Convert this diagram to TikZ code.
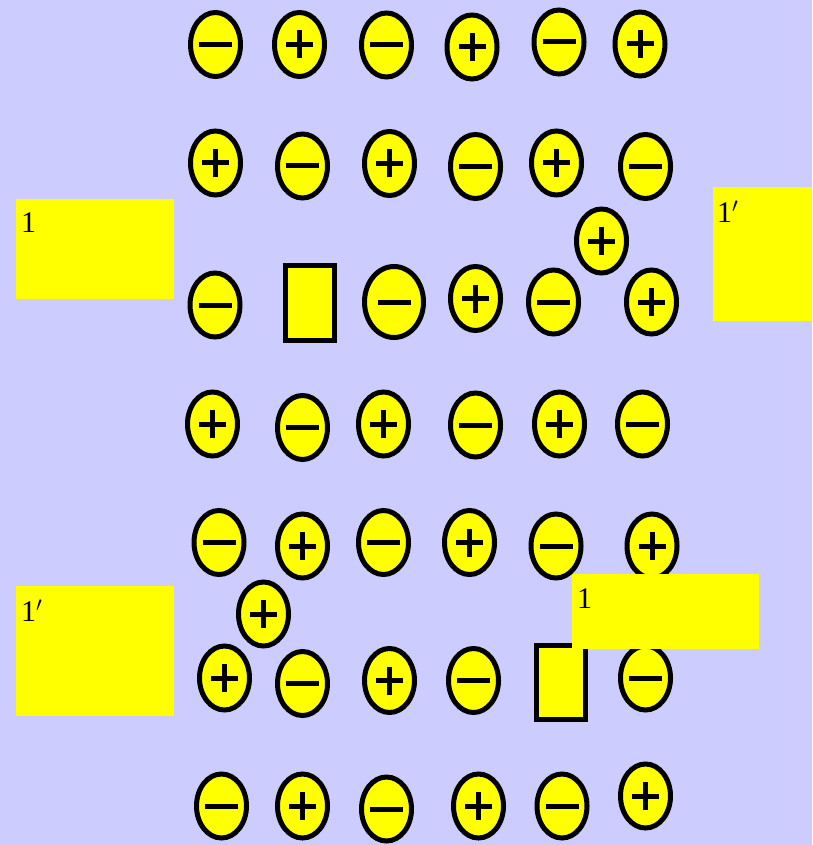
\documentclass[tikz,border=0pt]{standalone}
\usepackage{fontspec}
\setmainfont{Liberation Serif}
\usepackage{tikz}
\usetikzlibrary{shapes.geometric}
\definecolor{backdrop}{RGB}{204, 204, 255}
\definecolor{ionfill}{RGB}{255, 255, 0}

\tikzset{
  ion/.style={ellipse, draw=black, fill=ionfill, line width=5pt,
    minimum width=50pt, minimum height=64pt, inner sep=0pt},
  cation/.style={ion, path picture={
    \draw[line width=5pt] ([xshift=-13.5pt]path picture bounding box.center) -- ++(27pt,0pt);
    \draw[line width=5pt] ([yshift=-14pt]path picture bounding box.center) -- ++(0pt,28pt);}},
  anion/.style={ion, path picture={
    \draw[line width=5pt] ([xshift=-16.5pt]path picture bounding box.center) -- ++(33pt,0pt);}},
  hole/.style={rectangle, draw=black, fill=ionfill, line width=5pt,
    minimum width=49pt, minimum height=75pt, inner sep=0pt},
  pad/.style={rectangle, fill=ionfill, inner sep=0pt, anchor=north west},
  tag/.style={inner sep=0pt, anchor=base west, font=\fontsize{30}{36}\selectfont}
}

\begin{document}
\begin{tikzpicture}[x=1pt,y=-1pt]
\fill[backdrop] (0,0) rectangle (812,845);
% row 1
\node[anion] (r1a) at (215.5,44.5) {};
\node[cation] (r1b) at (299.5,44.5) {};
\node[anion] (r1c) at (386.5,45) {};
\node[cation] (r1d) at (472,47) {};
\node[anion] (r1e) at (559,42) {};
\node[cation] (r1f) at (640,44) {};
% row 2
\node[cation] (r2a) at (215.5,163) {};
\node[anion] (r2b) at (302.5,166) {};
\node[cation] (r2c) at (389.5,163.5) {};
\node[anion] (r2d) at (475.5,166.5) {};
\node[cation] (r2e) at (556.5,163) {};
\node[anion] (r2f) at (645.5,166.5) {};
\node[cation] (drift1) at (601.5,241) {};
% row 3
\node[anion] (r3a) at (215,305) {};
\node[hole] (gap1) at (310,303) {};
\node[anion, minimum width=59pt, minimum height=71pt] (r3c) at (394,302) {};
\node[cation] (r3d) at (475.5,298.5) {};
\node[anion] (r3e) at (553.5,302) {};
\node[cation] (r3f) at (651.5,302) {};
% row 4
\node[cation] (r4a) at (212.5,424) {};
\node[anion] (r4b) at (302.5,427.5) {};
\node[cation] (r4c) at (383.5,424) {};
\node[anion] (r4d) at (475.5,425) {};
\node[cation] (r4e) at (559.5,424) {};
\node[anion] (r4f) at (642.5,424) {};
% row 5
\node[anion] (r5a) at (219,542.5) {};
\node[cation] (r5b) at (302.5,546) {};
\node[anion] (r5c) at (383.5,542.5) {};
\node[cation] (r5d) at (469.5,542.5) {};
\node[anion] (r5e) at (556,546) {};
\node[cation] (r5f) at (652,546) {};
\node[cation] (drift2) at (263.5,614) {};
% row 6
\node[cation] (r6a) at (224.5,678) {};
\node[anion] (r6b) at (302.5,683.5) {};
\node[cation] (r6c) at (389.5,680.5) {};
\node[anion] (r6d) at (473.5,680.5) {};
\node[hole, minimum height=74pt] (gap2) at (560.5,682.5) {};
\node[anion] (r6f) at (645.5,678) {};
% row 7
\node[anion] (r7a) at (221.5,806) {};
\node[cation] (r7b) at (302.5,806) {};
\node[anion] (r7c) at (386.5,809) {};
\node[cation] (r7d) at (478.5,806) {};
\node[anion] (r7e) at (562,806) {};
\node[cation] (r7f) at (645.5,796) {};
% electrodes
\node[pad, minimum width=158pt, minimum height=100pt] (padA) at (16,199) {};
\node[tag] (labA) at ([xshift=5pt,yshift=-33pt]padA.north west) {1};
\node[pad, minimum width=99pt, minimum height=134pt] (padB) at (713,187) {};
\node[tag] (labB) at ([xshift=4pt,yshift=-35pt]padB.north west) {1$'$};
\node[pad, minimum width=158pt, minimum height=130pt] (padC) at (16,586) {};
\node[tag] (labC) at ([xshift=5pt,yshift=-35pt]padC.north west) {1$'$};
\node[pad, minimum width=187pt, minimum height=75pt] (padD) at (572,574) {};
\node[tag] (labD) at ([xshift=5pt,yshift=-34pt]padD.north west) {1};
\end{tikzpicture}
\end{document}
